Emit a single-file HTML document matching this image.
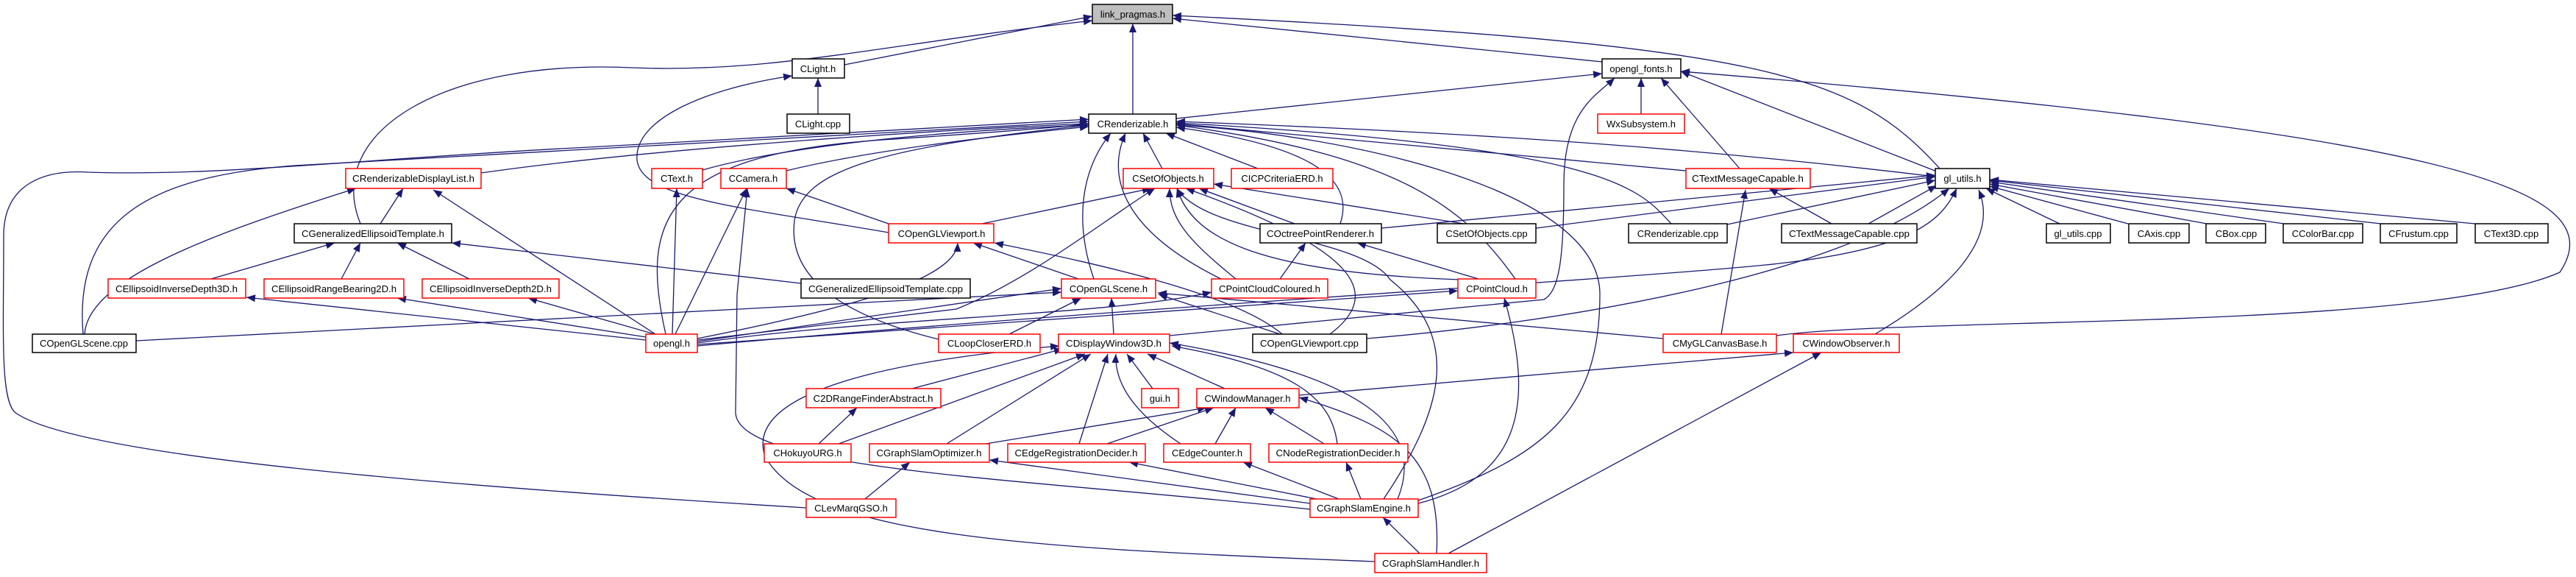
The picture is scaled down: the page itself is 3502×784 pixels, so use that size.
<!DOCTYPE html>
<html><head><meta charset="utf-8"><style>
html,body{margin:0;padding:0;background:#fff;}
svg{display:block;}
text{font-family:"Liberation Sans",Arial,sans-serif;font-size:13px;fill:#000;}
</style></head><body>
<svg width="3502" height="784" viewBox="0 0 3502 784" xmlns="http://www.w3.org/2000/svg">
<defs>
<marker id="a" markerUnits="userSpaceOnUse" markerWidth="14" markerHeight="12" refX="12" refY="5" orient="auto">
<path d="M0,0 L12,5 L0,10 z" fill="#191970"/>
</marker>
</defs>
<g fill="none" stroke="#191970" stroke-width="1.3" marker-end="url(#a)">
<path d="M1148 88 L1485 22"/>
<path d="M490 304 C 440 180, 600 80, 860 92 C 1050 100, 1200 60, 1485 28"/>
<path d="M2178 84 L1594 25"/>
<path d="M2637 229 C 2520 100, 2400 60, 1594 21"/>
<path d="M1540 155 L1540 32"/>
<path d="M1112 155 L1112 106"/>
<path d="M1208 316 C 1000 280, 860 270, 866 210 C 870 160, 960 120, 1077 103"/>
<path d="M1599 161 L2178 100"/>
<path d="M2231 155 L2231 106"/>
<path d="M2365 229 L2258 106"/>
<path d="M2633 233 L2285 97"/>
<path d="M2415 456 C 2600 430, 3300 450, 3480 370 C 3560 250, 3300 180, 2285 97"/>
<path d="M1590 456 L2099 407 C 2120 395, 2126 350, 2126 250 C 2126 150, 2170 130, 2195 106"/>
<path d="M1928 680 C 2100 620, 2175 560, 2175 400 C 2175 250, 1800 180, 1599 170"/>
<path d="M1881 678 C 1960 560, 1990 460, 1890 380 C 1850 320, 1640 320, 1600 256"/>
<path d="M1928 684 C 2060 650, 2090 560, 2045 405"/>
<path d="M1969 752 L2476 479"/>
<path d="M1766 537 L2438 479"/>
<path d="M2549 454 C 2640 400, 2720 330, 2690 258"/>
<path d="M2340 454 L2373 258"/>
<path d="M2261 460 L1574 398"/>
<path d="M654 235 C 900 200, 1300 175, 1480 168"/>
<path d="M955 231 C 1100 190, 1350 175, 1480 170"/>
<path d="M1069 232 C 1200 200, 1400 180, 1480 172"/>
<path d="M517 304 L548 256"/>
<path d="M287 379 L455 330"/>
<path d="M464 379 L490 330"/>
<path d="M638 379 L540 330"/>
<path d="M1089 385 L614 330"/>
<path d="M891 454 L589 258"/>
<path d="M115 454 C 120 380, 280 320, 484 256"/>
<path d="M113 454 C 100 300, 200 240, 400 225 C 800 200, 1200 180, 1480 165"/>
<path d="M185 463 L1443 397"/>
<path d="M1096 690 C 600 660, 100 620, 20 560 C 0 540, 5 450, 5 320 C 5 250, 60 230, 120 234 C 300 240, 500 215, 800 200 C 1100 185, 1350 170, 1480 162"/>
<path d="M878 462 L335 404"/>
<path d="M878 458 L540 405"/>
<path d="M890 454 L718 405"/>
<path d="M914 454 L920 256"/>
<path d="M918 454 L1015 256"/>
<path d="M1781 692 C 1400 650, 1000 640, 1000 560 L1002 400 L1016 256"/>
<path d="M905 454 C 870 300, 900 210, 1200 190 C 1350 180, 1450 172, 1480 168"/>
<path d="M1208 304 L1069 256"/>
<path d="M948 460 C 1150 420, 1300 380, 1302 330"/>
<path d="M948 464 L1443 392"/>
<path d="M948 462 L1300 420 C 1400 380, 1500 300, 1570 256"/>
<path d="M948 468 L1982 395"/>
<path d="M948 466 C 1200 430, 1500 430, 1647 397"/>
<path d="M1335 304 L1565 256"/>
<path d="M1466 379 L1323 330"/>
<path d="M1487 379 C 1460 300, 1470 230, 1510 181"/>
<path d="M1660 379 C 1540 320, 1500 250, 1530 181"/>
<path d="M1580 229 L1554 181"/>
<path d="M1710 229 L1585 181"/>
<path d="M1822 304 C 1840 250, 1800 200, 1599 173"/>
<path d="M2060 379 C 1990 280, 1900 210, 1599 170"/>
<path d="M2292 232 L1599 168"/>
<path d="M2272 304 C 2230 260, 2200 200, 1599 167"/>
<path d="M2631 240 C 2300 200, 2000 180, 1599 165"/>
<path d="M1276 461 C 1150 430, 1070 380, 1080 300 C 1090 230, 1200 200, 1480 170"/>
<path d="M1514 454 L1511 405"/>
<path d="M1372 454 L1470 405"/>
<path d="M1740 454 L1575 400"/>
<path d="M1743 454 C 1680 400, 1500 360, 1352 330"/>
<path d="M1808 454 C 1880 400, 1850 340, 1612 256"/>
<path d="M1858 460 C 2100 440, 2500 380, 2650 256"/>
<path d="M1740 379 L1775 330"/>
<path d="M2010 379 L1845 330"/>
<path d="M1985 380 C 1700 370, 1620 320, 1600 256"/>
<path d="M1680 379 C 1620 330, 1590 300, 1590 256"/>
<path d="M1760 304 L1630 256"/>
<path d="M1990 304 L1650 250"/>
<path d="M2088 310 L2631 240"/>
<path d="M2348 305 L2631 245"/>
<path d="M1878 310 L2631 238"/>
<path d="M2540 304 L2633 252"/>
<path d="M2490 304 L2405 256"/>
<path d="M2800 304 L2700 256"/>
<path d="M2893 304 L2705 253"/>
<path d="M3000 304 L2705 250"/>
<path d="M3105 304 L2705 247"/>
<path d="M3237 304 L2705 245"/>
<path d="M3365 304 L2705 244"/>
<path d="M948 470 C 1500 420, 2200 380, 2400 360 C 2600 340, 2640 300, 2660 256"/>
<path d="M1240 528 L1445 474"/>
<path d="M1113 603 L1165 554"/>
<path d="M1140 603 L1475 481"/>
<path d="M1287 603 L1483 481"/>
<path d="M1467 603 L1506 481"/>
<path d="M1605 603 C 1540 560, 1515 520, 1517 481"/>
<path d="M1567 528 L1532 481"/>
<path d="M1665 528 L1560 481"/>
<path d="M1818 603 C 1810 540, 1760 500, 1593 470"/>
<path d="M1900 678 C 1940 580, 1850 510, 1590 466"/>
<path d="M1869 763 C 1400 745, 1100 730, 1040 620 C 1020 560, 1100 500, 1440 470"/>
<path d="M1176 678 L1237 628"/>
<path d="M1781 684 L1345 625"/>
<path d="M1790 678 L1535 628"/>
<path d="M1820 678 L1690 628"/>
<path d="M1850 678 L1830 628"/>
<path d="M1930 752 L1880 703"/>
<path d="M1953 752 C 1960 620, 1900 580, 1766 540"/>
<path d="M1340 603 L1640 554"/>
<path d="M1505 603 L1650 554"/>
<path d="M1652 603 L1680 554"/>
<path d="M1800 603 L1720 554"/>
</g>
<g stroke-width="1.5">
<!-- row0 -->
<rect x="1485" y="6" width="109" height="26" fill="#bfbfbf" stroke="#000"/>
<!-- black boxes -->
<g fill="#fff" stroke="#000">
<rect x="1077" y="80" width="71" height="26"/>
<rect x="2178" y="80" width="107" height="26"/>
<rect x="1070" y="155" width="85" height="26"/>
<rect x="1480" y="155" width="119" height="26"/>
<rect x="2631" y="229" width="74" height="27"/>
<rect x="400" y="304" width="214" height="26"/>
<rect x="1713" y="304" width="165" height="26"/>
<rect x="1954" y="304" width="134" height="26"/>
<rect x="2214" y="304" width="134" height="26"/>
<rect x="2422" y="304" width="184" height="26"/>
<rect x="2782" y="304" width="87" height="26"/>
<rect x="2894" y="304" width="82" height="26"/>
<rect x="2999" y="304" width="81" height="26"/>
<rect x="3104" y="304" width="108" height="26"/>
<rect x="3236" y="304" width="104" height="26"/>
<rect x="3365" y="304" width="99" height="26"/>
<rect x="1089" y="379" width="230" height="26"/>
<rect x="44" y="454" width="141" height="25"/>
<rect x="1703" y="454" width="155" height="25"/>
</g>
<g fill="#fff" stroke="#ff0000">
<rect x="2172" y="155" width="118" height="26"/>
<rect x="470" y="229" width="184" height="27"/>
<rect x="886" y="229" width="69" height="27"/>
<rect x="980" y="229" width="89" height="27"/>
<rect x="1527" y="229" width="123" height="27"/>
<rect x="1674" y="229" width="138" height="27"/>
<rect x="2292" y="229" width="169" height="27"/>
<rect x="1208" y="304" width="143" height="26"/>
<rect x="147" y="379" width="187" height="26"/>
<rect x="359" y="379" width="190" height="26"/>
<rect x="574" y="379" width="186" height="26"/>
<rect x="1443" y="379" width="128" height="26"/>
<rect x="1647" y="379" width="158" height="26"/>
<rect x="1982" y="379" width="106" height="26"/>
<rect x="878" y="454" width="70" height="25"/>
<rect x="1276" y="454" width="138" height="25"/>
<rect x="1439" y="454" width="151" height="25"/>
<rect x="2261" y="454" width="154" height="25"/>
<rect x="2438" y="454" width="144" height="25"/>
<rect x="1096" y="528" width="183" height="26"/>
<rect x="1552" y="528" width="50" height="26"/>
<rect x="1627" y="528" width="139" height="26"/>
<rect x="1039" y="603" width="118" height="25"/>
<rect x="1182" y="603" width="163" height="25"/>
<rect x="1370" y="603" width="187" height="25"/>
<rect x="1582" y="603" width="118" height="25"/>
<rect x="1725" y="603" width="189" height="25"/>
<rect x="1096" y="678" width="122" height="25"/>
<rect x="1781" y="678" width="147" height="25"/>
<rect x="1869" y="752" width="152" height="26"/>
</g>
</g>
<g text-anchor="middle" lengthAdjust="spacingAndGlyphs">
<text x="1540" y="24">link_pragmas.h</text>
<text x="1112" y="98">CLight.h</text>
<text x="2231" y="98">opengl_fonts.h</text>
<text x="1112" y="173">CLight.cpp</text>
<text x="1540" y="173">CRenderizable.h</text>
<text x="2231" y="173">WxSubsystem.h</text>
<text x="562" y="247" textLength="166" lengthAdjust="spacingAndGlyphs">CRenderizableDisplayList.h</text>
<text x="920" y="247">CText.h</text>
<text x="1024" y="247">CCamera.h</text>
<text x="1588" y="247">CSetOfObjects.h</text>
<text x="1743" y="247">CICPCriteriaERD.h</text>
<text x="2376" y="247" textLength="152" lengthAdjust="spacingAndGlyphs">CTextMessageCapable.h</text>
<text x="2668" y="247">gl_utils.h</text>
<text x="507" y="322" textLength="194" lengthAdjust="spacingAndGlyphs">CGeneralizedEllipsoidTemplate.h</text>
<text x="1280" y="322">COpenGLViewport.h</text>
<text x="1795" y="322" textLength="146" lengthAdjust="spacingAndGlyphs">COctreePointRenderer.h</text>
<text x="2021" y="322">CSetOfObjects.cpp</text>
<text x="2281" y="322">CRenderizable.cpp</text>
<text x="2514" y="322" textLength="164" lengthAdjust="spacingAndGlyphs">CTextMessageCapable.cpp</text>
<text x="2825" y="322">gl_utils.cpp</text>
<text x="2935" y="322">CAxis.cpp</text>
<text x="3040" y="322">CBox.cpp</text>
<text x="3158" y="322">CColorBar.cpp</text>
<text x="3288" y="322">CFrustum.cpp</text>
<text x="3414" y="322">CText3D.cpp</text>
<text x="240" y="397" textLength="166" lengthAdjust="spacingAndGlyphs">CEllipsoidInverseDepth3D.h</text>
<text x="454" y="397" textLength="170" lengthAdjust="spacingAndGlyphs">CEllipsoidRangeBearing2D.h</text>
<text x="667" y="397" textLength="166" lengthAdjust="spacingAndGlyphs">CEllipsoidInverseDepth2D.h</text>
<text x="1204" y="397" textLength="210" lengthAdjust="spacingAndGlyphs">CGeneralizedEllipsoidTemplate.cpp</text>
<text x="1507" y="397">COpenGLScene.h</text>
<text x="1726" y="397" textLength="138" lengthAdjust="spacingAndGlyphs">CPointCloudColoured.h</text>
<text x="2035" y="397">CPointCloud.h</text>
<text x="114" y="471">COpenGLScene.cpp</text>
<text x="913" y="471">opengl.h</text>
<text x="1345" y="471">CLoopCloserERD.h</text>
<text x="1514" y="471" textLength="130" lengthAdjust="spacingAndGlyphs">CDisplayWindow3D.h</text>
<text x="1780" y="471" textLength="134" lengthAdjust="spacingAndGlyphs">COpenGLViewport.cpp</text>
<text x="2338" y="471">CMyGLCanvasBase.h</text>
<text x="2510" y="471">CWindowObserver.h</text>
<text x="1187" y="546" textLength="163" lengthAdjust="spacingAndGlyphs">C2DRangeFinderAbstract.h</text>
<text x="1577" y="546">gui.h</text>
<text x="1696" y="546">CWindowManager.h</text>
<text x="1098" y="620">CHokuyoURG.h</text>
<text x="1263" y="620" textLength="143" lengthAdjust="spacingAndGlyphs">CGraphSlamOptimizer.h</text>
<text x="1463" y="620" textLength="167" lengthAdjust="spacingAndGlyphs">CEdgeRegistrationDecider.h</text>
<text x="1641" y="620">CEdgeCounter.h</text>
<text x="1819" y="620" textLength="169" lengthAdjust="spacingAndGlyphs">CNodeRegistrationDecider.h</text>
<text x="1157" y="695">CLevMarqGSO.h</text>
<text x="1854" y="695" textLength="128" lengthAdjust="spacingAndGlyphs">CGraphSlamEngine.h</text>
<text x="1945" y="770" textLength="132" lengthAdjust="spacingAndGlyphs">CGraphSlamHandler.h</text>
</g>
</svg>
</body></html>
